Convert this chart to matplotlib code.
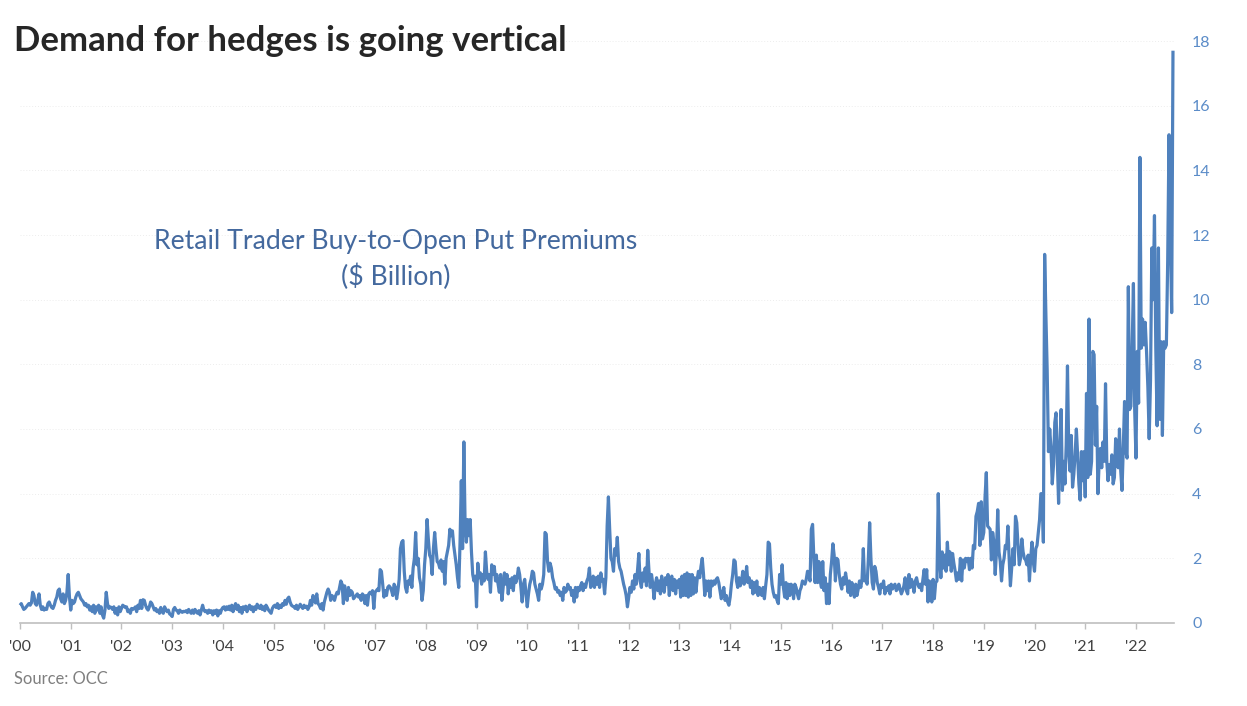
#!usr/bin/env python
'''
retail trader buy-to-open put premiums, 2000 to 2022
'''

import numpy as np
import matplotlib
matplotlib.use("Agg")
import matplotlib.pyplot as plt

# values per year ($ billion), evenly spaced inside the year
v2000 = [.55,.6,.5,.42,.45,.5,.55,.6,.55,.62,.95,.85,.6,.55,.7,.9,.55,.42,.5,.4,.45,.42,.6,.65,.55,.48,.45,.55,.7,.8,1.0,1.05,.75,.65,.9,.6,.7,.95,1.5,.8]
v2001 = [.4,.7,.6,.65,.8,.9,.95,.85,.75,.7,.65,.55,.6,.5,.55,.4,.5,.35,.55,.3,.5,.4,.55,.3,.5,.25,.15,.4,.95,.6,.45,.5,.48,.42,.5,.3,.45,.25,.5,.35]
v2002 = [.45,.55,.52,.48,.5,.35,.4,.3,.45,.42,.45,.5,.35,.55,.45,.7,.45,.72,.7,.55,.45,.4,.5,.65,.6,.5,.4,.45,.35,.4,.3,.48,.35,.3,.5,.42,.35,.4,.28,.25]
v2003 = [.2,.42,.48,.4,.38,.3,.4,.35,.33,.36,.35,.38,.32,.42,.35,.3,.4,.3,.42,.35,.3,.38,.25,.4,.55,.4,.35,.38,.3,.4,.33,.38,.25,.38,.3,.4,.22,.38,.3,.42]
v2004 = [.48,.5,.4,.5,.42,.52,.4,.55,.35,.5,.6,.42,.55,.35,.48,.3,.5,.42,.52,.35,.48,.55,.42,.5,.35,.5,.42,.58,.5,.45,.55,.42,.5,.38,.55,.48,.4,.35,.3,.45]
v2005 = [.52,.55,.48,.6,.45,.55,.48,.6,.55,.7,.58,.75,.8,.65,.55,.52,.5,.45,.55,.42,.5,.58,.5,.45,.55,.48,.52,.42,.5,.7,.55,.85,.75,.62,.9,.6,.55,.45,.6,.4]
v2006 = [.65,.8,.95,1.05,.95,.7,.85,.8,.7,.85,.95,.9,1.1,1.3,1.2,.6,1.15,.8,.7,1.1,.85,1.0,.95,.75,.8,.85,.9,.8,.85,.7,.9,.85,.6,.85,.55,.9,.95,.9,1.0,.45]
v2007 = [.95,1.0,1.05,1.0,1.65,1.6,1.2,.8,1.0,.85,1.1,1.15,1.1,1.0,.85,1.2,1.1,.75,1.0,1.35,2.3,2.5,2.55,1.6,1.1,.95,1.3,1.2,1.45,1.1,1.7,2.0,2.8,1.8,2.0,1.4,1.2,.7,1.0,1.8]
v2008 = [2.3,3.2,2.6,2.1,2.0,1.5,2.3,2.8,2.3,1.9,1.85,1.7,1.95,1.6,1.9,1.2,2.0,2.2,2.4,2.9,2.7,2.85,2.4,2.1,1.8,1.4,1.1,2.5,4.4,2.3,5.6,3.0,2.5,3.2,2.7,3.2,2.2,1.5,1.3,1.45]
v2009 = [.5,1.85,1.4,1.55,1.2,1.5,1.3,2.2,1.6,1.35,1.5,.95,1.8,1.5,1.75,1.3,1.5,1.2,.95,1.5,.7,1.1,1.55,1.2,1.5,.9,1.35,1.1,1.4,1.0,1.45,1.25,1.4,1.7,1.5,1.1,.65,1.2,1.35,.9]
v2010 = [.5,.9,1.2,1.35,1.6,1.55,1.2,1.05,.9,.7,1.2,1.05,1.2,1.5,2.8,2.75,1.9,1.6,1.85,1.7,1.4,1.25,1.05,1.1,.95,1.0,.85,.95,.7,1.1,.95,1.0,1.2,1.05,1.1,.85,1.0,.65,1.1,.8]
v2011 = [1.1,1.0,1.15,1.25,1.0,1.2,1.1,1.3,1.4,1.7,1.1,1.2,1.45,1.1,1.4,1.2,1.45,1.1,1.55,1.3,1.35,.9,1.4,3.0,3.9,2.9,2.0,1.9,1.6,2.3,2.1,2.65,1.9,1.7,1.6,1.4,1.2,1.05,.85,.5]
v2012 = [.8,1.1,.95,1.3,1.05,1.5,1.2,1.65,2.15,1.3,1.1,1.55,1.3,1.7,1.15,2.25,1.6,1.1,1.5,1.2,.75,1.2,1.4,1.0,1.3,.9,1.45,1.1,.95,1.4,1.2,1.5,.85,1.3,1.45,1.0,1.35,.9,1.3,1.1]
v2013 = [1.35,.8,1.45,.85,1.5,.85,1.55,.8,1.5,.85,1.5,.9,1.4,.95,1.35,1.6,1.4,1.75,2.0,1.5,.85,1.3,1.0,1.3,.8,1.3,1.15,1.3,1.2,1.35,1.4,1.25,1.0,.75,.9,1.1,.7,.85,.65,.55]
v2014 = [.8,1.2,1.5,1.95,1.9,1.3,1.1,1.4,1.15,1.3,1.6,1.2,1.3,1.75,1.25,1.4,1.1,1.3,.9,1.25,.95,1.3,.85,1.1,1.0,.85,1.1,.75,1.15,1.5,2.5,2.45,1.7,1.2,.95,.8,.85,.7,.6,1.5]
v2015 = [1.2,1.8,1.1,.8,1.25,.75,1.2,.85,1.2,1.15,.75,1.2,1.1,.9,.75,1.0,1.1,1.3,1.25,1.2,1.35,1.6,1.5,1.3,2.9,3.05,2.0,1.25,2.1,1.25,1.9,1.3,1.1,1.9,1.0,1.4,.6,1.2,.6,1.5]
v2016 = [1.9,2.45,2.1,1.3,2.0,1.95,1.5,1.2,1.05,1.4,1.2,1.55,1.3,.95,1.3,.85,1.25,1.0,.8,1.2,.85,1.05,1.3,1.1,1.35,2.3,1.3,1.4,1.2,2.0,3.1,2.0,1.25,1.05,1.75,1.6,1.25,1.1,.9,1.2]
v2017 = [1.1,1.3,.9,1.1,1.0,1.15,.9,1.2,1.05,1.15,1.2,1.0,1.05,1.2,1.05,.9,1.0,1.15,1.4,1.0,.9,1.5,1.1,1.35,1.2,.95,1.3,1.4,1.2,1.1,1.2,1.0,1.35,1.65,1.2,1.65,.65,1.3,1.25,.65]
v2018 = [1.35,.75,1.25,1.3,4.0,2.0,1.4,2.2,1.7,2.1,1.6,2.5,1.8,2.2,1.6,2.15,1.85,1.6,1.3,1.55,1.35,2.0,1.3,1.95,1.7,2.0,1.9,2.0,1.65,2.0,1.7,2.4,2.3,3.3,3.45,3.7,2.4,3.75,2.6]
v2019 = [2.8,3.9,4.65,3.0,2.95,2.9,1.95,2.8,2.5,1.5,2.2,3.5,2.2,1.9,1.3,1.8,2.0,2.4,2.3,3.0,2.0,1.15,1.7,2.3,1.8,3.3,3.1,2.4,1.8,2.0,2.6,2.2,2.0,1.95,1.8,2.1,1.3,2.0,2.5,1.9]
v2020 = [1.6,2.3,2.4,2.8,3.2,4.0,4.0,2.5,11.4,9.5,7.8,5.3,6.0,5.4,4.3,4.9,6.2,6.5,5.0,3.7,5.5,6.6,4.1,5.0,4.3,5.5,7.95,5.3,4.7,5.8,4.2,4.6,5.2,6.0,5.2,4.3,3.8,5.3,4.4,5.3]
v2021 = [3.9,7.1,4.5,9.4,4.6,5.0,8.4,8.3,5.5,6.7,4.0,5.0,5.4,4.8,5.6,5.0,7.4,5.0,4.4,4.9,4.6,5.2,4.3,4.5,5.7,5.2,4.8,6.0,4.7,4.1,5.4,6.85,5.3,5.1,10.4,6.6,6.7,8.5,10.5,6.6]
v2022 = [5.1,8.4,6.8,14.4,8.5,9.4,8.6,9.3,8.4,7.3,5.7,7.5,11.6,10.0,12.6,8.5,6.1,11.6,6.3,8.7,5.8,8.7,8.5,8.6,11.2,15.1,12.0,9.6,17.7]

year_values = [v2000, v2001, v2002, v2003, v2004, v2005, v2006, v2007, v2008, v2009, v2010, v2011,
               v2012, v2013, v2014, v2015, v2016, v2017, v2018, v2019, v2020, v2021, v2022]
years = list(range(2000, 2023))
last_date = 2022.73
year_labels = ["'%02d" % (y - 2000) for y in years]
y_ticks = [0, 2, 4, 6, 8, 10, 12, 14, 16, 18]

W, H = 1247, 706

plt.rcParams['font.family'] = ['Lato', 'DejaVu Sans']

def build_series():
    dates = []
    values = []
    for year, vals in zip(years, year_values):
        end = year + 1 if year != 2022 else last_date
        dates.extend(np.linspace(year, end, len(vals), endpoint=(year == 2022)))
        values.extend(vals)
    return dates, values

def plot_premiums():
    fig = plt.figure(figsize=(W / 100, H / 100), dpi=100)
    ax = fig.add_axes([20 / W, 1 - 623 / H, 1154 / W, 582 / H])

    dates, values = build_series()
    ax.plot(dates, values, color="#4f81bd", lw=2.3, solid_joinstyle="round", solid_capstyle="butt", clip_on=False)

    ax.set_xlim(2000, 2022.75)
    ax.set_ylim(0, 18)
    ax.set_xticks(years)
    ax.set_xticklabels(year_labels, fontsize=11.5, color="#404040")
    ax.set_yticks(y_ticks)
    ax.yaxis.tick_right()
    ax.set_yticklabels(y_ticks, fontsize=11.5, color="#5b8cc8", ha="left")
    ax.tick_params(axis="y", length=0, pad=13)
    ax.tick_params(axis="x", length=4.5, width=1, color="#bfbfbf", pad=8)
    ax.grid(axis="y", color="#ededed", lw=0.7, ls=(0, (1, 2)))
    ax.set_axisbelow(True)
    for side in ["top", "left", "right"]:
        ax.spines[side].set_visible(False)
    ax.spines["bottom"].set_color("#bfbfbf")
    ax.spines["bottom"].set_linewidth(1.2)

    fig.text(14 / W, 1 - 41 / H, "Demand for hedges is going vertical", fontsize=25, fontweight="bold",
             color="#262626", va="center", ha="left")
    fig.text(396 / W, 1 - 242 / H, "Retail Trader Buy-to-Open Put Premiums", fontsize=19.2, color="#44699e",
             va="center", ha="center")
    fig.text(396 / W, 1 - 277 / H, "($ Billion)", fontsize=19.2, color="#44699e", va="center", ha="center")
    fig.text(14 / W, 1 - 679 / H, "Source: OCC", fontsize=11.9, color="#7f7f7f", va="center", ha="left")

    fig.savefig("out.png", dpi=100)

if __name__ == "__main__":
    plot_premiums()
